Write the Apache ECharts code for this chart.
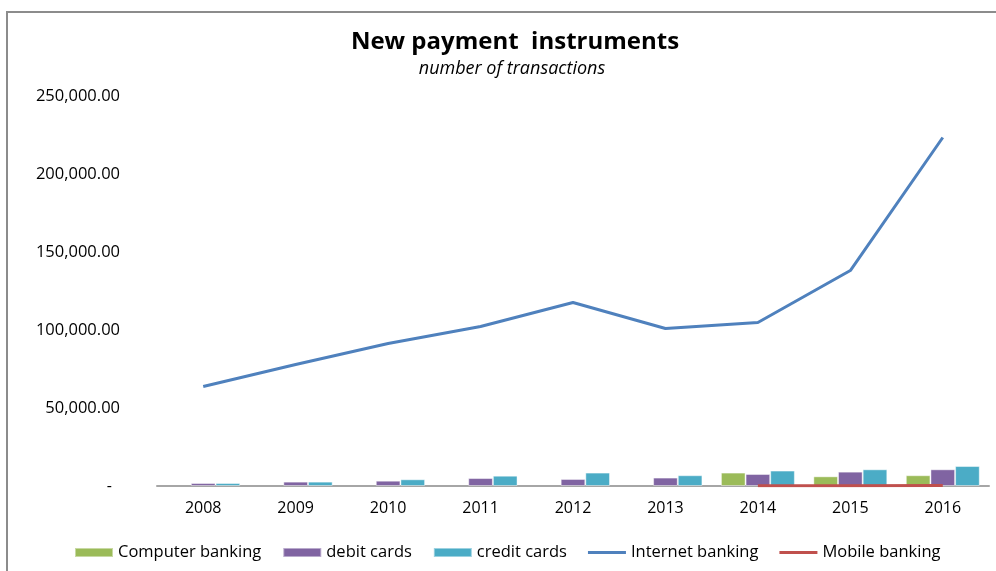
<!DOCTYPE html>
<html>
<head>
<meta charset="utf-8">
<script src="https://cdn.jsdelivr.net/npm/echarts@6/dist/echarts.min.js"></script>
<style>
  html, body { margin: 0; padding: 0; background: #fff; }
  #chart { width: 996px; height: 571px; }
</style>
</head>
<body>
<div id="chart"></div>
<script>
// Yearly transaction counts by payment instrument
var years = ['2008', '2009', '2010', '2011', '2012', '2013', '2014', '2015', '2016'];
var computerBanking = [null, null, null, null, null, null, 8600, 6200, 6900];
var debitCards = [1900, 2800, 3400, 5100, 4500, 5400, 7700, 9200, 10700];
var creditCards = [1900, 2800, 4300, 6600, 8600, 6900, 9900, 10700, 12800];
var internetBanking = [63800, 77900, 91300, 102200, 117600, 101000, 104800, 138100, 223400];
var mobileBanking = [null, null, null, null, null, null, 150, 200, 250];
var yTicks = { min: 0, max: 250000, step: 50000 };

var FONT = 'Open Sans';
var LINE_ICON = 'path://M0,0 L38,0 L38,3 L0,3 Z';

function fmtNumber(v) {
  if (v === 0) return '{dash|-}';
  return v.toLocaleString('en-US', { minimumFractionDigits: 2, maximumFractionDigits: 2 });
}

var chart = echarts.init(document.getElementById('chart'), null, { renderer: 'canvas' });

chart.setOption({
  backgroundColor: '#ffffff',
  animation: false,
  title: [
    {
      text: 'New payment  instruments',
      left: 510, top: 25, textAlign: 'center',
      textStyle: { fontFamily: FONT, fontWeight: 'bold', fontSize: 24, color: '#000' }
    },
    {
      text: 'number of transactions',
      left: 507, top: 55, textAlign: 'center',
      textStyle: { fontFamily: FONT, fontStyle: 'italic', fontWeight: 'normal', fontSize: 18, color: '#000' }
    }
  ],
  graphic: [
    {
      type: 'polyline',
      shape: { points: [[7, 571], [7, 12], [996, 12]] },
      style: { stroke: '#8c8c8c', lineWidth: 2, fill: null },
      silent: true
    }
  ],
  legend: {
    left: 74, top: 544, padding: 0,
    itemWidth: 38, itemHeight: 9, itemGap: 21,
    textStyle: { fontFamily: FONT, fontSize: 16.5, color: '#000' },
    data: [
      { name: 'Computer banking', icon: 'rect' },
      { name: 'debit cards', icon: 'rect' },
      { name: 'credit cards', icon: 'rect' },
      { name: 'Internet banking', icon: LINE_ICON },
      { name: 'Mobile banking', icon: LINE_ICON }
    ]
  },
  grid: { left: 157, right: 7, top: 96, bottom: 85, containLabel: false },
  xAxis: {
    type: 'category',
    data: years,
    axisLine: { lineStyle: { color: '#a6a6a6', width: 2 } },
    axisTick: { show: false },
    axisLabel: { fontFamily: FONT, fontSize: 16, color: '#000', margin: 14 }
  },
  yAxis: {
    type: 'value',
    min: yTicks.min, max: yTicks.max, interval: yTicks.step,
    axisLine: { show: false },
    axisTick: { show: false },
    splitLine: { show: false },
    axisLabel: {
      fontFamily: FONT, fontSize: 16.5, color: '#000', margin: 37,
      formatter: fmtNumber,
      rich: { dash: { fontFamily: FONT, fontSize: 16, color: '#000', padding: [0, 8, 0, 0] } }
    }
  },
  series: [
    {
      name: 'Computer banking', type: 'bar', data: computerBanking,
      barGap: '0%', barCategoryGap: '20%',
      itemStyle: { color: '#9bbb59', borderColor: 'rgba(255,255,255,0.45)', borderWidth: 1 }
    },
    {
      name: 'debit cards', type: 'bar', data: debitCards,
      barGap: '0%', barCategoryGap: '20%',
      itemStyle: { color: '#8064a2', borderColor: 'rgba(255,255,255,0.45)', borderWidth: 1 }
    },
    {
      name: 'credit cards', type: 'bar', data: creditCards,
      barGap: '0%', barCategoryGap: '20%',
      itemStyle: { color: '#4bacc6', borderColor: 'rgba(255,255,255,0.45)', borderWidth: 1 }
    },
    {
      name: 'Internet banking', type: 'line', data: internetBanking,
      symbol: 'none', z: 5,
      lineStyle: { color: '#4f81bd', width: 3 },
      itemStyle: { color: '#4f81bd' }
    },
    {
      name: 'Mobile banking', type: 'line', data: mobileBanking,
      symbol: 'none', z: 5,
      lineStyle: { color: '#c0504d', width: 3 },
      itemStyle: { color: '#c0504d' }
    }
  ]
});
</script>
</body>
</html>
